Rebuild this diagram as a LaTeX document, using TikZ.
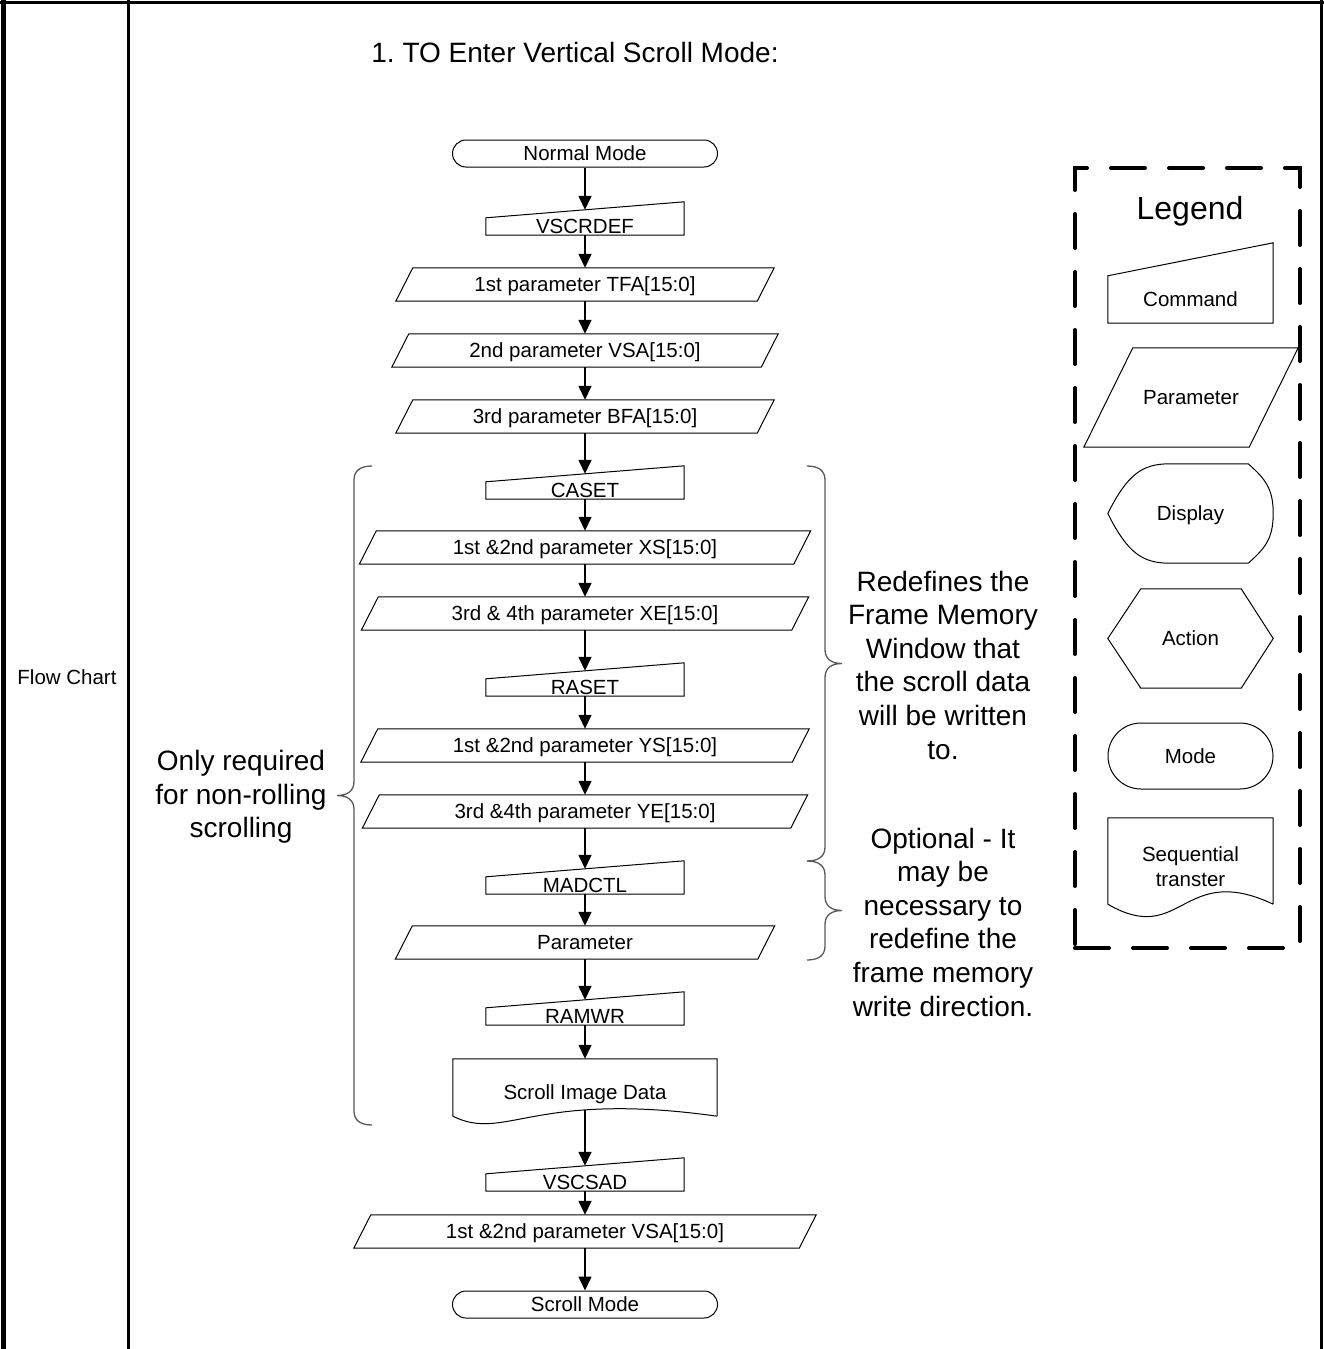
\documentclass[tikz,border=0pt]{standalone}
\usepackage{fontspec}
\setmainfont{Liberation Sans}
\usetikzlibrary{arrows.meta,calc,shapes.misc}
\frenchspacing

\newcommand{\flowfont}{\fontsize{20.5}{24}\selectfont}
\newcommand{\notefont}{\fontsize{28}{33.6}\selectfont}

\tikzstyle{outline}=[draw=black, line width=1pt]
\tikzstyle{flow}=[font=\flowfont, inner sep=0pt, text height=14.7pt, text depth=0pt]
\tikzstyle{modebox}=[flow, outline, rounded rectangle]
\tikzstyle{cmd}=[flow, minimum width=198pt, minimum height=17pt]
\tikzstyle{param}=[flow, minimum height=33pt]
\tikzstyle{note}=[font=\notefont, align=center, inner sep=0pt]
\tikzstyle{flowarrow}=[line width=1.5pt, -{Triangle[length=14pt, width=13pt]}]
\tikzstyle{legendbox}=[draw=black, line width=4pt, line cap=round, dash pattern=on 34pt off 24pt]
\tikzset{curly/.style={draw=black!65, line width=1.3pt, to path={
	.. controls ($(\tikztostart)+(12*#1,0)$) and ($(\tikztostart)+(18*#1,5)$) .. ($(\tikztostart)+(18*#1,14)$)
	-- ($(\tikztostart)!0.5!(\tikztotarget)+(18*#1,-14)$)
	.. controls ($(\tikztostart)!0.5!(\tikztotarget)+(18*#1,-5)$) and ($(\tikztostart)!0.5!(\tikztotarget)+(24*#1,0)$) .. ($(\tikztostart)!0.5!(\tikztotarget)+(35*#1,0)$)
	.. controls ($(\tikztostart)!0.5!(\tikztotarget)+(24*#1,0)$) and ($(\tikztostart)!0.5!(\tikztotarget)+(18*#1,5)$) .. ($(\tikztostart)!0.5!(\tikztotarget)+(18*#1,14)$)
	-- ($(\tikztotarget)+(18*#1,-14)$)
	.. controls ($(\tikztotarget)+(18*#1,-5)$) and ($(\tikztotarget)+(12*#1,0)$) .. (\tikztotarget)}}}

\begin{document}
\begin{tikzpicture}[x=1pt, y=-1pt]
				\useasboundingbox (0,0) rectangle (1324,1349);

				% Table frame
				\draw[line width=5pt] (3,0) -- (3,1349);
				\draw[line width=3pt] (0,2.5) -- (1324,2.5);
				\draw[line width=3pt] (128,0) -- (128,1349);
				\draw[line width=3pt] (1321.5,0) -- (1321.5,1349);

				\node[font=\flowfont] (rowname) at (67,677) {Flow Chart};
				\node[note] (title) at (575,52) {1. TO Enter Vertical Scroll Mode:};

				% Steps of the scroll set-up
				\node[modebox, minimum width=265pt, minimum height=27pt] (normal) at (585,153.5) {Normal Mode};
				\node[cmd] (vscrdef) at (585,226.5) {VSCRDEF};
				\node[param, minimum width=378pt] (tfa) at (585,284.5) {1st parameter TFA[15:0]};
				\node[param, minimum width=386pt] (vsa) at (585,350.5) {2nd parameter VSA[15:0]};
				\node[param, minimum width=378pt] (bfa) at (585,416.5) {3rd parameter BFA[15:0]};

				\node[cmd] (caset) at (585,490.5) {CASET};
				\node[param, minimum width=451pt] (xs) at (585,547.5) {1st \&2nd parameter XS[15:0]};
				\node[param, minimum width=447pt] (xe) at (585,613.5) {3rd \& 4th parameter XE[15:0]};
				\node[cmd] (raset) at (585,687.5) {RASET};
				\node[param, minimum width=448pt] (ys) at (585,745.5) {1st \&2nd parameter YS[15:0]};
				\node[param, minimum width=445pt] (ye) at (585,811.5) {3rd \&4th parameter YE[15:0]};
				\node[cmd] (madctl) at (585,885.5) {MADCTL};
				\node[param, minimum width=379pt] (madpar) at (585,942.5) {Parameter};
				\node[cmd] (ramwr) at (585,1016.5) {RAMWR};
				\node[flow, minimum width=264pt, minimum height=66pt] (sid) at (585,1092) {Scroll Image Data};

				\node[cmd] (vscsad) at (585,1182.5) {VSCSAD};
				\node[param, minimum width=462pt] (vsa2) at (585,1231.5) {1st \&2nd parameter VSA[15:0]};
				\node[modebox, minimum width=265pt, minimum height=27pt] (scroll) at (585,1304.5) {Scroll Mode};

				% Outlines of commands, parameters and data
				\foreach \n in {vscrdef, caset, raset, madctl, ramwr, vscsad}{
					\draw[outline] (\n.south west) -- (\n.north west) -- ($(\n.north east)+(0,-16)$) -- (\n.south east) -- cycle;
				}
				\foreach \n in {tfa, vsa, bfa, xs, xe, ys, ye, madpar, vsa2}{
					\draw[outline] (\n.south west) -- ($(\n.north west)+(17,0)$) -- (\n.north east) -- ($(\n.south east)+(-17,0)$) -- cycle;
				}
				\draw[outline] ($(sid.south east)+(0,-9)$) -- (sid.north east) -- (sid.north west) -- ($(sid.south west)+(0,-9)$)
					.. controls ($(sid.south west)+(0.2*264,17)$) and ($(sid.south west)+(0.3*264,-35)$) .. ($(sid.south east)+(0,-9)$);

				% Arrows
				\foreach \a/\b in {vscrdef/tfa, tfa/vsa, vsa/bfa, caset/xs, xs/xe, raset/ys, ys/ye, madctl/madpar, ramwr/sid, vscsad/vsa2, vsa2/scroll}{
					\draw[flowarrow] (\a.south) -- (\b.north);
				}
				\foreach \a/\b in {normal/vscrdef, bfa/caset, xe/raset, ye/madctl, madpar/ramwr}{
					\draw[flowarrow] (\a.south) -- ($(\b.north)+(0,-8)$);
				}
				\draw[flowarrow] ($(sid.south)+(0,-15)$) -- ($(vscsad.north)+(0,-8)$);

				% Braces and notes
				\coordinate (onlytop) at (372,466);
				\coordinate (onlybot) at (372,1125);
				\coordinate (redeftop) at (807,466);
				\coordinate (redefbot) at (807,861);
				\coordinate (optbot) at (807,960);
				\draw[curly=-1] (onlytop) to (onlybot);
				\draw[curly=1] (redeftop) to (redefbot);
				\draw[curly=1] (redefbot) to (optbot);

				\node[note] (onlynote) at (241,797) {Only required\\for non-rolling\\scrolling};
				\node[note] (redefnote) at (943,665) {Redefines the\\Frame Memory\\Window that\\the scroll data\\will be written\\to.};
				\node[note] (optnote) at (943,922) {Optional - It\\may be\\necessary to\\redefine the\\frame memory\\write direction.};

				% Legend
				\node[legendbox, minimum width=225pt, minimum height=780pt] (legend) at (1187.5,558) {};
				\node[font=\fontsize{32}{38}\selectfont, inner sep=0pt] (legendtitle) at (1190,211.5) {Legend};
				\node[flow, minimum width=165pt, minimum height=47pt] (lgcmd) at (1190.5,299.5) {Command};
				\node[flow, minimum width=214pt, minimum height=99pt] (lgparam) at (1191,397.5) {Parameter};
				\node[flow, minimum width=165pt, minimum height=99pt] (lgdisp) at (1190.5,513.5) {Display};
				\node[flow, minimum width=165pt, minimum height=99pt] (lgact) at (1190.5,638.5) {Action};
				\node[modebox, minimum width=165pt, minimum height=66pt] (lgmode) at (1190.5,756) {Mode};
				\node[font=\fontsize{20.5}{25}\selectfont, inner sep=0pt, align=center, minimum width=165pt, minimum height=98pt] (lgseq) at (1190.5,867) {Sequential\\transter};

				\draw[outline] (lgcmd.south west) -- (lgcmd.north west) -- ($(lgcmd.north east)+(0,-33)$) -- (lgcmd.south east) -- cycle;
				\draw[outline] (lgparam.south west) -- ($(lgparam.north west)+(49,0)$) -- (lgparam.north east) -- ($(lgparam.south east)+(-49,0)$) -- cycle;
				\draw[outline] (lgdisp.west) .. controls ($(lgdisp.west)+(20,-40)$) and ($(lgdisp.north west)+(35,0)$) .. ($(lgdisp.north west)+(62,0)$)
					-- ($(lgdisp.north east)+(-25,0)$) .. controls ($(lgdisp.north east)+(-8,15)$) and ($(lgdisp.east)+(0,-25)$) .. (lgdisp.east)
					.. controls ($(lgdisp.east)+(0,25)$) and ($(lgdisp.south east)+(-8,-15)$) .. ($(lgdisp.south east)+(-25,0)$)
					-- ($(lgdisp.south west)+(62,0)$) .. controls ($(lgdisp.south west)+(35,0)$) and ($(lgdisp.west)+(20,40)$) .. (lgdisp.west) -- cycle;
				\draw[outline] (lgact.west) -- ($(lgact.north west)+(33,0)$) -- ($(lgact.north east)+(-32,0)$) -- (lgact.east)
					-- ($(lgact.south east)+(-32,0)$) -- ($(lgact.south west)+(33,0)$) -- cycle;
				\draw[outline] ($(lgseq.south east)+(0,-12)$) -- (lgseq.north east) -- (lgseq.north west) -- ($(lgseq.south west)+(0,-12)$)
					.. controls ($(lgseq.south west)+(0.45*165,31)$) and ($(lgseq.south west)+(0.45*165,-55)$) .. ($(lgseq.south east)+(0,-12)$);
			\end{tikzpicture}
\end{document}
